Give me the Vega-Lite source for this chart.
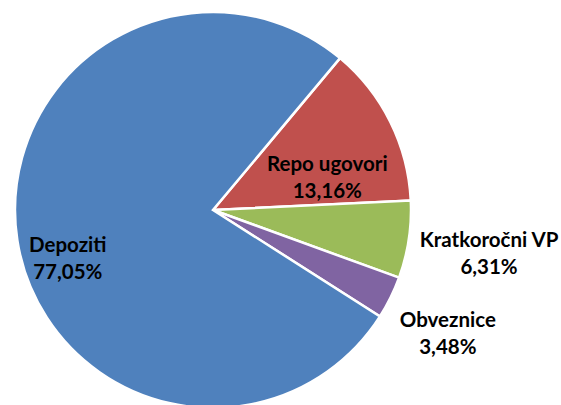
{
  "$schema": "https://vega.github.io/schema/vega-lite/v6.json",
  "width": 426,
  "height": 390,
  "autosize": {"type": "none"},
  "padding": {"left": 0, "top": 15, "right": 135, "bottom": 0},
  "background": "white",
  "view": {"stroke": null},
  "data": {
    "values": [
      {"k": 1, "cat": "Repo ugovori", "value": 13.16, "label": "Repo ugovori\n13,16%"},
      {"k": 2, "cat": "Kratkoročni VP", "value": 6.31, "label": "Kratkoročni VP\n6,31%"},
      {"k": 3, "cat": "Obveznice", "value": 3.48, "label": "Obveznice\n3,48%"},
      {"k": 4, "cat": "Depoziti", "value": 77.05, "label": "Depoziti\n77,05%"}
    ]
  },
  "encoding": {
    "theta": {"field": "value", "type": "quantitative", "stack": true, "scale": {"range": [0.6964, 6.9796]}},
    "order": {"field": "k", "type": "quantitative"}
  },
  "layer": [
    {
      "mark": {"type": "arc", "radius": 198, "stroke": "white", "strokeWidth": 2.5},
      "encoding": {
        "color": {
          "field": "cat", "type": "nominal", "legend": null,
          "scale": {"domain": ["Repo ugovori", "Kratkoročni VP", "Obveznice", "Depoziti"], "range": ["#C0504D", "#9BBB59", "#8064A2", "#4F81BD"]}
        }
      }
    },
    {
      "mark": {"type": "text", "radius": 152, "dx": 5, "dy": 13, "font": "Lato", "fontWeight": "bold", "fontSize": 20.5, "lineHeight": 27, "lineBreak": "\n", "align": "center", "baseline": "middle", "color": "black"},
      "encoding": {"text": {"condition": {"test": "datum.cat === 'Depoziti'", "field": "label"}, "value": ""}}
    },
    {
      "mark": {"type": "text", "radius": 118.7, "dx": 8, "dy": 8, "font": "Lato", "fontWeight": "bold", "fontSize": 20.5, "lineHeight": 27, "lineBreak": "\n", "align": "center", "baseline": "middle", "color": "black"},
      "encoding": {"text": {"condition": {"test": "datum.cat === 'Repo ugovori'", "field": "label"}, "value": ""}}
    },
    {
      "mark": {"type": "text", "radius": 279.2, "dx": 0, "dy": -11, "font": "Lato", "fontWeight": "bold", "fontSize": 20.5, "lineHeight": 27, "lineBreak": "\n", "align": "center", "baseline": "middle", "color": "black"},
      "encoding": {"text": {"condition": {"test": "datum.cat === 'Kratkoročni VP'", "field": "label"}, "value": ""}}
    },
    {
      "mark": {"type": "text", "radius": 265.2, "dx": -3, "dy": -6, "font": "Lato", "fontWeight": "bold", "fontSize": 20.5, "lineHeight": 27, "lineBreak": "\n", "align": "center", "baseline": "middle", "color": "black"},
      "encoding": {"text": {"condition": {"test": "datum.cat === 'Obveznice'", "field": "label"}, "value": ""}}
    }
  ]
}
